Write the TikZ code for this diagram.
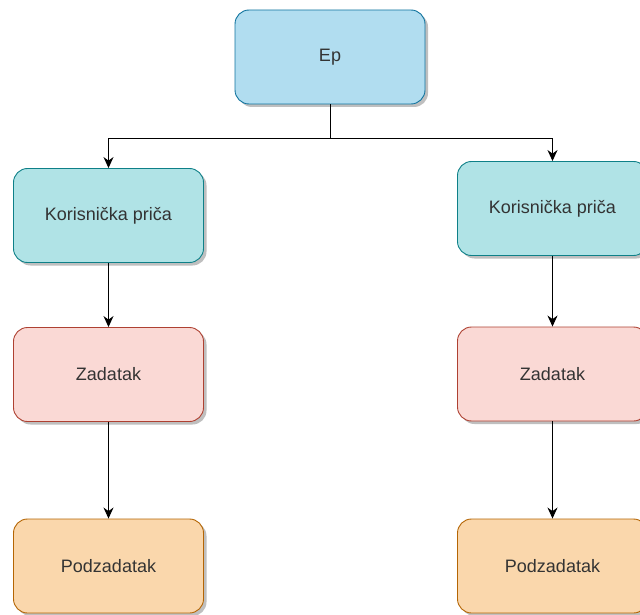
\documentclass[tikz,border=0pt]{standalone}
\usepackage{fontspec}
\setmainfont{Liberation Sans}
\usetikzlibrary{arrows.meta,shadows}

\definecolor{epfill}{HTML}{B1DDF0}
\definecolor{epline}{HTML}{10739E}
\definecolor{pricafill}{HTML}{B0E3E6}
\definecolor{pricaline}{HTML}{0E8088}
\definecolor{zadfill}{HTML}{FAD9D5}
\definecolor{zadline}{HTML}{AE4132}
\definecolor{podfill}{HTML}{FAD7AC}
\definecolor{podline}{HTML}{B46504}

\tikzset{
  card/.style={draw,rounded corners=14pt,line width=0.9pt,minimum width=190pt,
    minimum height=94pt,inner sep=0pt,text=black!80,
    font=\fontsize{18}{22}\selectfont,
    drop shadow={shadow xshift=3pt,shadow yshift=-3pt,opacity=0.25,fill=black}},
  ep/.style={card,fill=epfill,draw=epline},
  prica/.style={card,fill=pricafill,draw=pricaline},
  zad/.style={card,fill=zadfill,draw=zadline},
  pod/.style={card,fill=podfill,draw=podline},
  link/.style={->,line width=1pt}
}

\begin{document}
\begin{tikzpicture}[x=1pt,y=-1pt,>={Stealth[length=11pt,width=10pt]}]
\useasboundingbox (0,0) rectangle (640,615);

\node[ep] (ep) at (330,57) {Ep};
\node[prica] (pl) at (108.5,215.5) {Korisnička priča};
\node[prica] (pr) at (552.5,208.5) {Korisnička priča};
\node[zad] (zl) at (108.5,374.5) {Zadatak};
\node[zad] (zr) at (552.5,374) {Zadatak};
\node[pod] (dl) at (108.5,566) {Podzadatak};
\node[pod] (dr) at (552.5,566) {Podzadatak};

\coordinate (split) at ([yshift=-34pt]ep.south);
\draw[line width=1pt] (ep.south) -- (split);
\draw[link] (split) -| (pl.north);
\draw[link] (split) -| (pr.north);
\draw[link] (pl) -- (zl);
\draw[link] (pr) -- (zr);
\draw[link] (zl) -- (dl);
\draw[link] (zr) -- (dr);
\end{tikzpicture}
\end{document}
